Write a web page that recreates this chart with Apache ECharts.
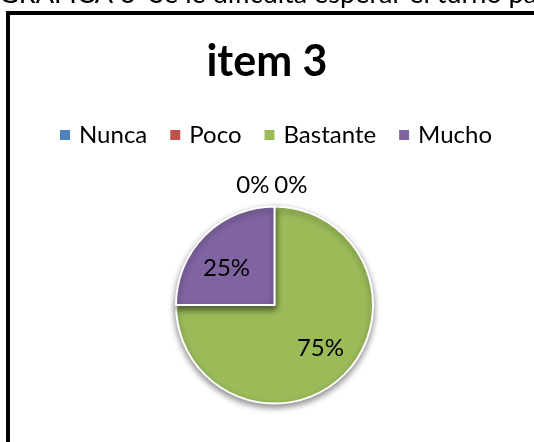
<!DOCTYPE html>
<html><head><meta charset="utf-8">
<script src="https://cdn.jsdelivr.net/npm/echarts@6/dist/echarts.min.js"></script>
<style>html,body{margin:0;padding:0;background:#fff;}#c{width:534px;height:442px;}</style>
</head><body><div id="c"></div>
<script>
const pageHeading = 'GRÁFICA 3  Se le dificulta esperar el turno para';
const chartTitle = 'item 3';
const categories = ['Nunca', 'Poco', 'Bastante', 'Mucho'];
const values = [0, 0, 3, 1];
const colors = ['#4F81BD', '#C0504D', '#9BBB59', '#8064A2'];

const FONT = 'Lato, "Liberation Sans", sans-serif';
const chart = echarts.init(document.getElementById('c'), null, {renderer: 'canvas'});
chart.setOption({
  backgroundColor: '#fff',
  animation: false,
  title: {
    text: chartTitle, left: 'center', top: 36,
    textStyle: {fontFamily: FONT, fontSize: 43, fontWeight: 'bold', color: '#000'}
  },
  legend: {
    data: categories, left: 58, top: 123, padding: 0, icon: 'rect', itemWidth: 12, itemHeight: 12, itemGap: 21,
    textStyle: {fontFamily: FONT, fontSize: 24, color: '#000', padding: [0, 0, 0, 3]}
  },
  graphic: [
    {type: 'rect', shape: {x: 8, y: 13, width: 700, height: 700}, style: {fill: 'none', stroke: '#000', lineWidth: 4}, silent: true},
    {type: 'text', left: -1, top: -19, style: {text: pageHeading, font: '27px ' + FONT, fill: '#000'}, silent: true}
  ],
  series: [{
    type: 'pie', center: [274.5, 305], radius: 98.5, startAngle: 90, clockwise: true,
    avoidLabelOverlap: false,
    itemStyle: {borderColor: '#fff', borderWidth: 2, shadowBlur: 6, shadowColor: 'rgba(0,0,0,0.45)', shadowOffsetY: 3},
    label: {show: true, position: 'inside', formatter: '{d}%', fontFamily: FONT, fontSize: 24, color: '#000'},
    labelLine: {show: false},
    labelLayout: function (p) {
      if (p.dataIndex === 0) return {dx: 0, dy: -17};
      if (p.dataIndex === 1) return {dx: 38, dy: -17};
      if (p.dataIndex === 2) return {dx: 9, dy: 6};
      if (p.dataIndex === 3) return {dx: -11, dy: 0};
      return {};
    },
    data: categories.map((n, i) => {
      const d = {name: n, value: values[i], itemStyle: {color: colors[i]}};
      if (values[i] === 0) {
        d.label = {position: 'outside'};
        d.labelLine = {show: false, length: 4, length2: 0};
      }
      return d;
    })
  }]
});
</script></body></html>
